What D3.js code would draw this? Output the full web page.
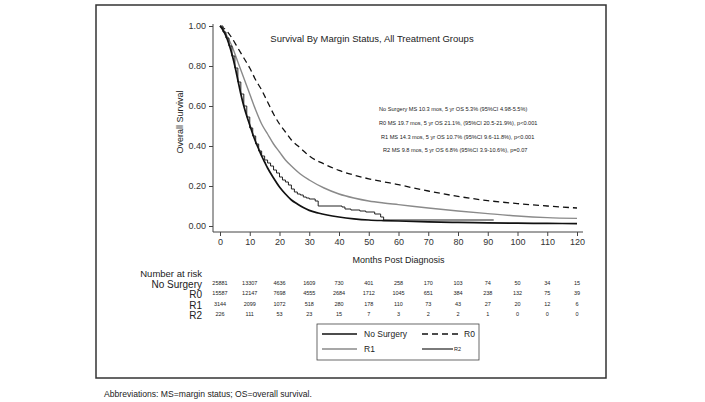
<!DOCTYPE html>
<html>
<head>
    <title>Survival By Margin Status</title>
    <script src="https://d3js.org/d3.v7.min.js"></script>
    <style>
        body { margin: 0; background: #fff; }
        text { font-family: 'Liberation Sans', Arial, sans-serif; fill: #222; }
        .axis path, .axis line { stroke: #444; }
        .axis text { font-size: 9px; fill: #333; }
    </style>
</head>
<body>
    <script>
        // x ticks (months) and number-at-risk table
        var months = [0, 10, 20, 30, 40, 50, 60, 70, 80, 90, 100, 110, 120];
        var yTicks = [0, 0.2, 0.4, 0.6, 0.8, 1.0];
        var riskGroups = ["No Surgery", "R0", "R1", "R2"];
        var riskNoSurgery = [25881, 13307, 4636, 1609, 730, 401, 258, 170, 103, 74, 50, 34, 15];
        var riskR0 = [15587, 12147, 7698, 4555, 2684, 1712, 1045, 651, 384, 238, 132, 75, 39];
        var riskR1 = [3144, 2099, 1072, 518, 280, 178, 110, 73, 43, 27, 20, 12, 6];
        var riskR2 = [226, 111, 53, 23, 15, 7, 3, 2, 2, 1, 0, 0, 0];

        // survival estimates [month, survival]
        var survNoSurgery = [[0,1],[1,0.98],[2,0.95],[3,0.91],[4,0.86],[5,0.80],[6,0.73],[7,0.66],[8,0.60],[9,0.55],[10,0.505],
            [11,0.46],[12,0.42],[13,0.385],[14,0.35],[15,0.32],[16,0.29],[18,0.24],[20,0.195],[22,0.16],[24,0.13],[26,0.11],
            [28,0.092],[30,0.078],[33,0.065],[36,0.055],[40,0.045],[45,0.036],[50,0.03],[55,0.027],[60,0.025],[70,0.021],
            [80,0.018],[90,0.016],[100,0.014],[110,0.013],[120,0.012]];
        var survR0 = [[0,1],[2,0.98],[4,0.94],[6,0.89],[8,0.84],[10,0.79],[12,0.73],[14,0.68],[16,0.62],[18,0.56],[20,0.51],
            [22,0.47],[24,0.43],[27,0.39],[30,0.35],[35,0.31],[40,0.278],[45,0.255],[50,0.236],[55,0.221],[60,0.207],[65,0.19],
            [70,0.175],[80,0.148],[90,0.127],[100,0.112],[110,0.10],[120,0.09]];
        var survR1 = [[0,1],[2,0.96],[4,0.90],[6,0.82],[8,0.74],[10,0.66],[12,0.58],[14,0.51],[16,0.46],[18,0.41],[20,0.37],
            [22,0.33],[24,0.30],[27,0.26],[30,0.23],[35,0.19],[40,0.16],[45,0.14],[50,0.125],[55,0.115],[60,0.107],[70,0.09],
            [80,0.075],[90,0.062],[100,0.05],[110,0.042],[120,0.038]];
        var survR2 = [[0,1],[1,0.97],[2,0.94],[3,0.90],[4,0.85],[5,0.79],[6,0.72],[7,0.66],[8,0.60],[9,0.545],[10,0.49],
            [11,0.45],[12,0.41],[13,0.375],[14,0.35],[15,0.33],[16,0.315],[17,0.30],[18,0.28],[19,0.265],[20,0.245],[21,0.23],
            [22,0.22],[23,0.205],[24,0.185],[25,0.17],[26,0.16],[27,0.155],[28,0.145],[29,0.14],[30,0.135],[32,0.125],
            [33,0.10],[41,0.095],[42,0.085],[44,0.08],[47,0.075],[49,0.07],[52,0.06],[54,0.045],[55,0.03],[92,0.03]];

        var notes = [
            "No Surgery MS 10.3 mos, 5 yr OS 5.3% (95%CI 4.98-5.5%)",
            "R0 MS 19.7 mos, 5 yr OS 21.1%, (95%CI 20.5-21.9%), p<0.001",
            "R1 MS 14.3 mos, 5 yr OS 10.7% (95%CI 9.6-11.8%), p<0.001",
            "R2 MS 9.8 mos, 5 yr OS 6.8% (95%CI 3.9-10.6%), p=0.07"
        ];

        var svg = d3.select("body").append("svg")
            .attr("width", 705)
            .attr("height", 402);

        // outer frame
        svg.append("rect")
            .attr("x", 96).attr("y", 5)
            .attr("width", 510).attr("height", 373)
            .attr("fill", "none")
            .attr("stroke", "#333")
            .attr("stroke-width", 1.5);

        var x = d3.scaleLinear().domain([0, 120]).range([220, 577]);
        var y = d3.scaleLinear().domain([0, 1]).range([226, 26]);

        // axes
        svg.append("g")
            .attr("class", "axis")
            .attr("transform", "translate(213,0)")
            .call(d3.axisLeft(y).tickValues(yTicks).tickFormat(d3.format(".2f")).tickSize(4).tickPadding(3).tickSizeOuter(0))
            .select(".domain").attr("d", "M0,24V232");

        svg.append("g")
            .attr("class", "axis")
            .attr("transform", "translate(0,232)")
            .call(d3.axisBottom(x).tickValues(months).tickSize(4).tickPadding(3).tickSizeOuter(0))
            .select(".domain").attr("d", "M213,0H583");

        svg.append("text")
            .attr("transform", "translate(183,122) rotate(-90)")
            .attr("text-anchor", "middle")
            .attr("font-size", 9)
            .attr("fill", "#333")
            .text("Overall Survival");

        svg.append("text")
            .attr("x", x(60)).attr("y", 263)
            .attr("text-anchor", "middle")
            .attr("font-size", 9)
            .attr("fill", "#333")
            .text("Months Post Diagnosis");

        svg.append("text")
            .attr("x", 372).attr("y", 42)
            .attr("text-anchor", "middle")
            .attr("font-size", 9.5)
            .text("Survival By Margin Status, All Treatment Groups");

        svg.selectAll(".note")
            .data(notes)
            .enter().append("text")
            .attr("class", "note")
            .attr("x", function(d, i) { return [379, 379, 381, 383][i]; })
            .attr("y", function(d, i) { return [111, 125, 139, 152][i]; })
            .attr("font-size", 5.6)
            .attr("fill", "#333")
            .text(function(d) { return d; });

        // curves
        var line = d3.line()
            .x(function(d) { return x(d[0]); })
            .y(function(d) { return y(d[1]); })
            .curve(d3.curveMonotoneX);

        var stepLine = d3.line()
            .x(function(d) { return x(d[0]); })
            .y(function(d) { return y(d[1]); })
            .curve(d3.curveStepAfter);

        var series = [
            { data: survR0, gen: line, color: "#111", width: 1.3, dash: "6,4" },
            { data: survR1, gen: line, color: "#8a8a8a", width: 1.4, dash: null },
            { data: survR2, gen: stepLine, color: "#222", width: 1, dash: null },
            { data: survNoSurgery, gen: line, color: "#111", width: 1.7, dash: null }
        ];

        svg.append("g")
            .selectAll("path")
            .data(series)
            .enter().append("path")
            .attr("d", function(d) { return d.gen(d.data); })
            .attr("fill", "none")
            .attr("stroke", function(d) { return d.color; })
            .attr("stroke-width", function(d) { return d.width; })
            .attr("stroke-dasharray", function(d) { return d.dash; });

        // number at risk
        svg.append("text")
            .attr("x", 202).attr("y", 277)
            .attr("text-anchor", "end")
            .attr("font-size", 9.5)
            .text("Number at risk");

        var riskRows = [riskNoSurgery, riskR0, riskR1, riskR2];
        var rowY = [283, 293, 304, 314];

        riskGroups.forEach(function(g, i) {
            svg.append("text")
                .attr("x", 202).attr("y", rowY[i] + 5)
                .attr("text-anchor", "end")
                .attr("font-size", 10)
                .text(g);

            svg.append("g")
                .selectAll("text")
                .data(riskRows[i])
                .enter().append("text")
                .attr("x", function(d, j) { return x(months[j]); })
                .attr("y", rowY[i] + 2)
                .attr("text-anchor", "middle")
                .attr("font-size", 5.5)
                .attr("fill", "#333")
                .text(function(d) { return d; });
        });

        // legend
        var lg = svg.append("g");
        lg.append("rect")
            .attr("x", 317).attr("y", 324)
            .attr("width", 162).attr("height", 36)
            .attr("fill", "none")
            .attr("stroke", "#444")
            .attr("stroke-width", 0.8);

        var legendItems = [
            { label: "No Surgery", x: 322, y: 334, len: 35, color: "#111", width: 1.7, dash: null, size: 8.5 },
            { label: "R0", x: 422, y: 334, len: 36, color: "#111", width: 1.3, dash: "6,4", size: 8.5 },
            { label: "R1", x: 322, y: 349, len: 35, color: "#8a8a8a", width: 1.4, dash: null, size: 8.5 },
            { label: "R2", x: 422, y: 349, len: 31, color: "#222", width: 1.2, dash: null, size: 5.5 }
        ];

        legendItems.forEach(function(d) {
            lg.append("line")
                .attr("x1", d.x).attr("x2", d.x + d.len)
                .attr("y1", d.y).attr("y2", d.y)
                .attr("stroke", d.color)
                .attr("stroke-width", d.width)
                .attr("stroke-dasharray", d.dash);
            lg.append("text")
                .attr("x", d.size < 6 ? d.x + d.len + 1 : d.x + 42)
                .attr("y", d.y + (d.size < 6 ? 2 : 3))
                .attr("font-size", d.size)
                .text(d.label);
        });

        svg.append("text")
            .attr("x", 104).attr("y", 397)
            .attr("font-family", "Lato, 'Open Sans', sans-serif")
            .attr("font-size", 8.6)
            .attr("fill", "#111")
            .text("Abbreviations: MS=margin status; OS=overall survival.");
    </script>
</body>
</html>
